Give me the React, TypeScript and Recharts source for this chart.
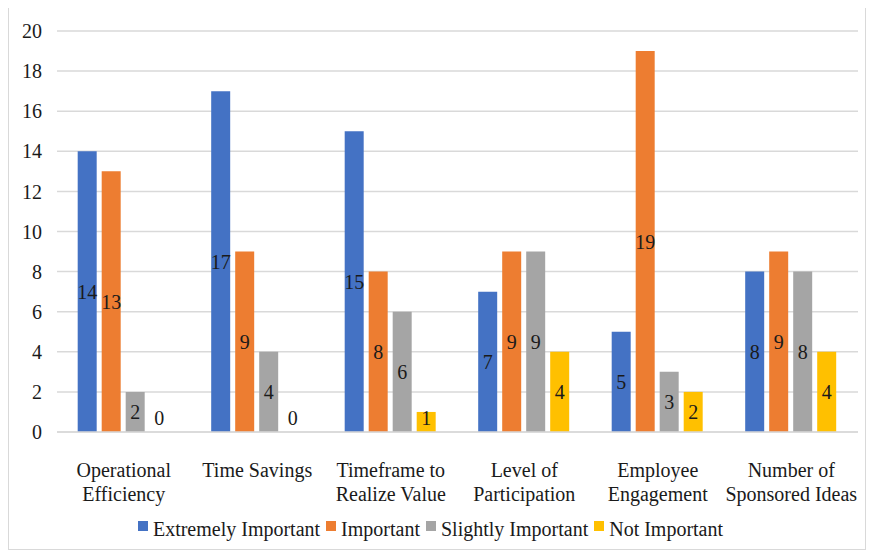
import React from 'react';
import { BarChart, Bar, XAxis, YAxis, CartesianGrid, Legend, LabelList, Rectangle } from 'recharts';

const categories = [
  'Operational\nEfficiency',
  'Time Savings',
  'Timeframe to\nRealize Value',
  'Level of\nParticipation',
  'Employee\nEngagement',
  'Number of\nSponsored Ideas',
];
const extremelyImportant = [14, 17, 15, 7, 5, 8];
const important = [13, 9, 8, 9, 19, 9];
const slightlyImportant = [2, 4, 6, 9, 3, 8];
const notImportant = [0, 0, 1, 4, 2, 4];
const yTicks = [0, 2, 4, 6, 8, 10, 12, 14, 16, 18, 20];

const series = [
  { key: 'extremely', name: 'Extremely Important', color: '#4472C4' },
  { key: 'important', name: 'Important', color: '#ED7D31' },
  { key: 'slightly', name: 'Slightly Important', color: '#A5A5A5' },
  { key: 'not', name: 'Not Important', color: '#FFC000' },
];

const data = categories.map((c, i) => ({
  name: c,
  extremely: extremelyImportant[i],
  important: important[i],
  slightly: slightlyImportant[i],
  not: notImportant[i],
}));

const FONT = "'Times New Roman', 'Liberation Serif', 'DejaVu Serif', serif";
const TEXT = '#1a1a1a';
const FS = 20;

const CategoryTick = (props: any) => {
  const { x, y, payload } = props;
  const lines = String(payload.value).split('\n');
  return (
    <g transform={`translate(${x},${y})`}>
      {lines.map((l, i) => (
        <text key={i} x={0} y={37 + i * 24} textAnchor="middle" fontFamily={FONT} fontSize={FS} fill={TEXT}>
          {l}
        </text>
      ))}
    </g>
  );
};

const renderLabel = (props: any) => {
  const { x, y, width, height, value } = props;
  const h = Number(height);
  let cy = Number(y) + h / 2;
  if (h < 28) cy = Number(y) + h - 14;
  return (
    <text x={Number(x) + Number(width) / 2} y={cy} dy={7} textAnchor="middle" fontFamily={FONT} fontSize={FS} fill={TEXT}>
      {value}
    </text>
  );
};

const LegendContent = () => (
  <div style={{ display: 'flex', justifyContent: 'center', alignItems: 'center', height: 30, fontFamily: FONT, fontSize: FS, color: TEXT }}>
    {series.map((s) => (
      <span key={s.key} style={{ display: 'flex', alignItems: 'center', marginRight: 6 }}>
        <span style={{ width: 10, height: 10, background: s.color, display: 'inline-block', marginRight: 5, marginTop: -6 }} />
        {s.name}
      </span>
    ))}
  </div>
);

const makeShape = (key: string) => (props: any) =>
  props.payload && props.payload[key] > 0 ? <Rectangle {...props} /> : <g />;

export default function App() {
  return (
    <div style={{ width: 856, height: 542, border: '1px solid #d9d9d9', marginTop: -2, background: '#fff', fontFamily: FONT }}>
      <BarChart
        width={856}
        height={542}
        data={data}
        margin={{ top: 24, right: 7, left: 0, bottom: 5 }}
        barCategoryGap="15.5%"
        barGap={5}
      >
        <CartesianGrid vertical={false} stroke="#d9d9d9" strokeWidth={1.5} />
        <XAxis
          dataKey="name"
          tick={<CategoryTick />}
          tickLine={false}
          axisLine={{ stroke: '#d9d9d9', strokeWidth: 1.5 }}
          height={82}
          interval={0}
        />
        <YAxis
          domain={[0, 20]}
          ticks={yTicks}
          width={48}
          axisLine={false}
          tickLine={false}
          tickSize={0}
          tickMargin={15}
          tick={{ fontFamily: FONT, fontSize: FS, fill: TEXT }}
        />
        <Legend verticalAlign="bottom" content={<LegendContent />} />
        {series.map((s) => (
          <Bar
            key={s.key}
            dataKey={s.key}
            name={s.name}
            fill={s.color}
            minPointSize={1}
            shape={makeShape(s.key)}
            isAnimationActive={false}
          >
            <LabelList dataKey={s.key} content={renderLabel} />
          </Bar>
        ))}
      </BarChart>
    </div>
  );
}
